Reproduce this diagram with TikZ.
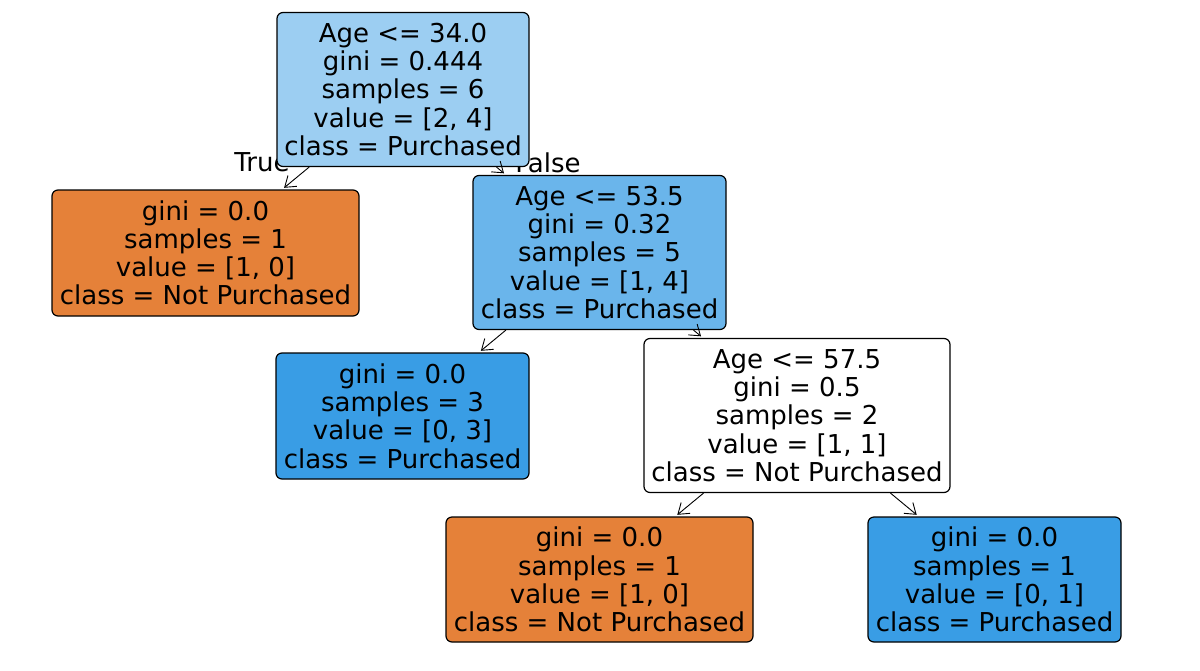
\documentclass[tikz,border=0pt]{standalone}
\usepackage{fontspec}
\setmainfont{DejaVu Sans}
\usetikzlibrary{arrows.meta}
\definecolor{cRoot}{HTML}{9CCEF2}
\definecolor{cMid}{HTML}{6AB5EB}
\definecolor{cBlue}{HTML}{399DE5}
\definecolor{cOrange}{HTML}{E58139}
\begin{document}
\begin{tikzpicture}[x=1pt,y=-1pt,
  every node/.style={font=\fontsize{26}{28.2}\selectfont, inner sep=0pt, align=center},
  treebox/.style={draw=black, line width=1.2pt, rounded corners=6pt, rectangle},
  edgelbl/.style={text=black},
  conn/.style={-{Straight Barb[length=10pt,width=14pt]}, line width=0.9pt, shorten >=2.5pt}]
\useasboundingbox (0,0) rectangle (1200,670);
\fill[white] (0,0) rectangle (1200,670);
% edge labels (beneath the boxes)
\node[edgelbl] (lt) at (262,162.5) {True};
\node[edgelbl] (lf) at (548,162.5) {False};
% boxes
\node[treebox, fill=cRoot, minimum width=252pt, minimum height=154pt] (root) at (403,89.5)
  {Age <= 34.0\\gini = 0.444\\samples = 6\\value = [2, 4]\\class = Purchased};
\node[treebox, fill=cOrange, minimum width=307pt, minimum height=126pt] (leafA) at (205.5,253)
  {gini = 0.0\\samples = 1\\value = [1, 0]\\class = Not Purchased};
\node[treebox, fill=cMid, minimum width=253pt, minimum height=154pt] (nodeB) at (599.5,252.5)
  {Age <= 53.5\\gini = 0.32\\samples = 5\\value = [1, 4]\\class = Purchased};
\node[treebox, fill=cBlue, minimum width=253pt, minimum height=126pt] (leafC) at (402.5,416)
  {gini = 0.0\\samples = 3\\value = [0, 3]\\class = Purchased};
\node[treebox, fill=white, minimum width=306pt, minimum height=154pt] (nodeD) at (797,415.5)
  {Age <= 57.5\\gini = 0.5\\samples = 2\\value = [1, 1]\\class = Not Purchased};
\node[treebox, fill=cOrange, minimum width=307pt, minimum height=125pt] (leafE) at (599.5,579.5)
  {gini = 0.0\\samples = 1\\value = [1, 0]\\class = Not Purchased};
\node[treebox, fill=cBlue, minimum width=253pt, minimum height=125pt] (leafF) at (994.5,579.5)
  {gini = 0.0\\samples = 1\\value = [0, 1]\\class = Purchased};
% connectors
\draw[conn] (root) -- (leafA);
\draw[conn] (root) -- (nodeB);
\draw[conn] (nodeB) -- (leafC);
\draw[conn] (nodeB) -- (nodeD);
\draw[conn] (nodeD) -- (leafE);
\draw[conn] (nodeD) -- (leafF);
\end{tikzpicture}
\end{document}
